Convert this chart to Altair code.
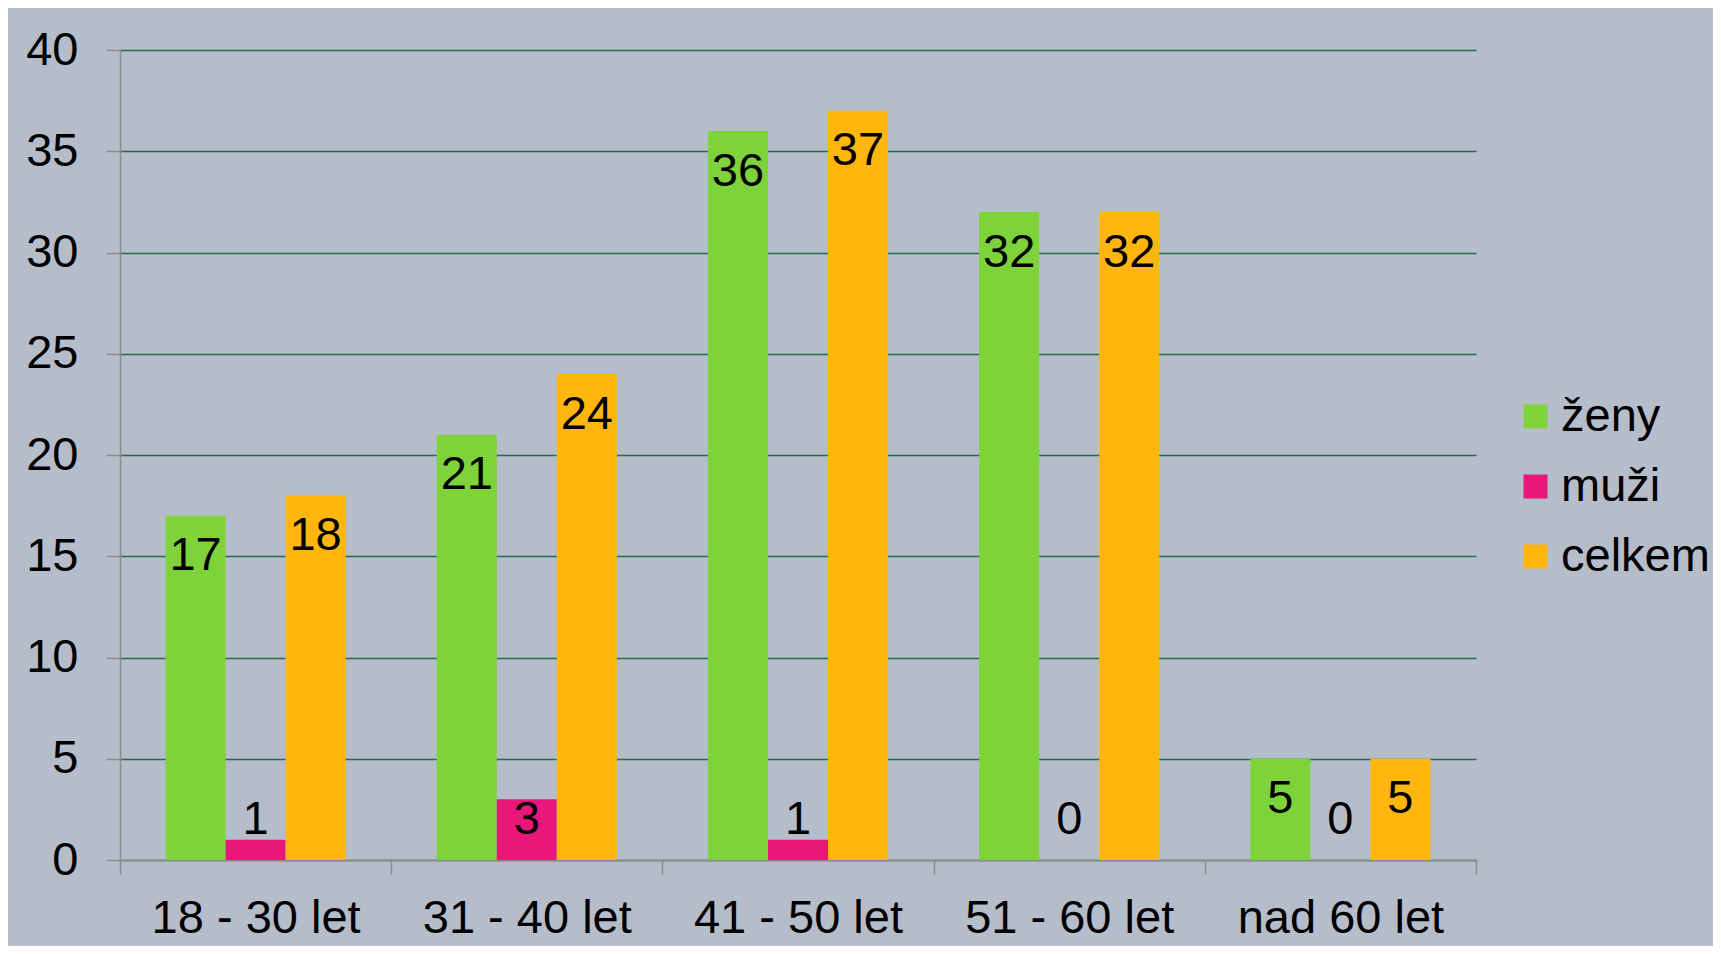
import altair as alt
import pandas as pd

categories = ["18 - 30 let", "31 - 40 let", "41 - 50 let", "51 - 60 let", "nad 60 let"]
series = ["ženy", "muži", "celkem"]
zeny = [17, 21, 36, 32, 5]
muzi = [1, 3, 1, 0, 0]
celkem = [18, 24, 37, 32, 5]
colors = ["#7ED23A", "#E8177A", "#FFB70F"]

rows = []
for s, vals in zip(series, [zeny, muzi, celkem]):
    for c, v in zip(categories, vals):
        rows.append({"kategorie": c, "serie": s, "hodnota": v})
df = pd.DataFrame(rows)

FONT = "Liberation Sans"
FS = 47

x = alt.X(
    "kategorie:N", sort=categories,
    scale=alt.Scale(paddingInner=0, paddingOuter=0),
    axis=alt.Axis(title=None, labelAngle=0, tickBand="extent", tickSize=14, labelLimit=0,
                  tickColor="#8C8C8C", domainColor="#8C8C8C", tickWidth=1.5, domainWidth=1.5,
                  labelFontSize=FS, labelFont=FONT, labelColor="black", labelPadding=21, grid=False),
)
xo = alt.XOffset("serie:N", sort=series, scale=alt.Scale(paddingOuter=0.76, paddingInner=0))

bars = alt.Chart(df).mark_bar().encode(
    x=x,
    xOffset=xo,
    y=alt.Y("hodnota:Q", scale=alt.Scale(domain=[0, 40]),
            axis=alt.Axis(title=None, values=list(range(0, 41, 5)), grid=True,
                          gridColor="#236B4A", gridWidth=1.4, tickSize=14, tickColor="#8C8C8C",
                          tickWidth=1.5, domainColor="#8C8C8C", domainWidth=1.5,
                          labelFontSize=FS, labelFont=FONT, labelColor="black", labelPadding=28)),
    color=alt.Color("serie:N", sort=series,
                    scale=alt.Scale(domain=series, range=colors),
                    legend=alt.Legend(title=None, orient="none", legendX=1392, legendY=343,
                                      symbolType="square", symbolSize=576, symbolStrokeWidth=0,
                                      labelFontSize=FS, labelFont=FONT, labelColor="black",
                                      labelLimit=0, labelOffset=2, rowPadding=22)),
)

labels = alt.Chart(df).transform_calculate(
    pos="max(datum.hodnota - 2, 2)"
).mark_text(fontSize=FS, font=FONT, color="black", baseline="middle").encode(
    x=x,
    xOffset=xo,
    y=alt.Y("pos:Q"),
    text=alt.Text("hodnota:Q"),
)

chart = alt.layer(bars, labels).properties(
    width=1356, height=810,
    padding={"left": 112, "top": 42, "right": 237, "bottom": 86},
    autosize=alt.AutoSizeParams(type="none"),
    background="#B5BCCA",
).configure_view(stroke=None)

chart.save("out.html", embed_options={"renderer": "svg", "actions": False})
